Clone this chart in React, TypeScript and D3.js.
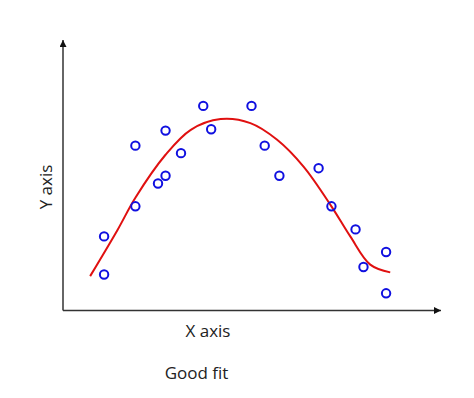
import React, { useEffect, useRef } from 'react';
import * as d3 from 'd3';

// observed samples (x, y) in chart units
const sampleX = [1.09, 1.09, 1.92, 1.92, 2.72, 2.72, 2.52, 3.13, 3.72, 3.93, 5.0, 5.35, 5.74, 6.78, 7.12, 7.76, 8.57, 7.97, 8.57];
const sampleY = [1.34, 2.76, 6.14, 3.88, 6.7, 5.02, 4.73, 5.86, 7.62, 6.75, 7.62, 6.14, 5.02, 5.3, 3.88, 3.02, 2.18, 1.62, 0.64];

// fitted curve
const fitX = [0.72, 1.45, 1.92, 2.72, 3.39, 4.18, 4.97, 5.68, 6.38, 7.12, 7.62, 8.15, 8.68];
const fitY = [1.28, 3.01, 4.2, 5.8, 6.73, 7.13, 6.98, 6.36, 5.36, 3.88, 2.76, 1.71, 1.42];

const xLabel = 'X axis';
const yLabel = 'Y axis';
const caption = 'Good fit';

const Chart: React.FC = () => {
    const svgRef = useRef<SVGSVGElement>(null);

    useEffect(() => {
        if (!svgRef.current) return;
        const svg = d3.select(svgRef.current);
        svg.selectAll('*').remove();

        const x0 = 63, x1 = 441, y0 = 310.5, y1 = 40;
        const xScale = d3.scaleLinear().domain([0, 10]).range([x0, x1 - 1]);
        const yScale = d3.scaleLinear().domain([0, 10]).range([y0, y1 + 2]);

        // arrow heads
        const defs = svg.append('defs');
        defs.append('marker')
            .attr('id', 'arrow')
            .attr('viewBox', '0 0 10 10')
            .attr('refX', 10)
            .attr('refY', 5)
            .attr('markerWidth', 8)
            .attr('markerHeight', 7)
            .attr('markerUnits', 'userSpaceOnUse')
            .attr('orient', 'auto')
            .append('path')
            .attr('d', 'M0,0 L10,5 L0,10 Z')
            .style('fill', '#111');

        svg.append('line')
            .attr('x1', x0).attr('y1', y0)
            .attr('x2', x1).attr('y2', y0)
            .style('stroke', '#333')
            .style('stroke-width', 1.5)
            .attr('marker-end', 'url(#arrow)');

        svg.append('line')
            .attr('x1', x0).attr('y1', y0)
            .attr('x2', x0).attr('y2', y1)
            .style('stroke', '#333')
            .style('stroke-width', 1.5)
            .attr('marker-end', 'url(#arrow)');

        const fit: [number, number][] = fitX.map((v, i) => [v, fitY[i]]);
        const line = d3.line<[number, number]>()
            .x(d => xScale(d[0]))
            .y(d => yScale(d[1]))
            .curve(d3.curveCatmullRom);

        svg.append('path')
            .datum(fit)
            .attr('d', line)
            .style('fill', 'none')
            .style('stroke', '#e01010')
            .style('stroke-width', 2);

        svg.selectAll('circle.pt')
            .data(sampleX.map((v, i) => [v, sampleY[i]]))
            .join('circle')
            .attr('class', 'pt')
            .attr('cx', d => xScale(d[0]))
            .attr('cy', d => yScale(d[1]))
            .attr('r', 4.2)
            .style('fill', 'none')
            .style('stroke', '#1010e0')
            .style('stroke-width', 2);

        const font = '"Open Sans", sans-serif';
        svg.append('text')
            .attr('x', 208)
            .attr('y', 336.5)
            .attr('text-anchor', 'middle')
            .style('font-family', font)
            .style('font-size', '17px')
            .style('fill', '#222')
            .text(xLabel);

        svg.append('text')
            .attr('transform', 'translate(51.5,187) rotate(-90)')
            .attr('text-anchor', 'middle')
            .style('font-family', font)
            .style('font-size', '17px')
            .style('fill', '#222')
            .text(yLabel);

        svg.append('text')
            .attr('x', 196.5)
            .attr('y', 378.5)
            .attr('text-anchor', 'middle')
            .style('font-family', font)
            .style('font-size', '17px')
            .style('fill', '#222')
            .text(caption);
    }, []);

    return <svg ref={svgRef} width={474} height={398} style={{ display: 'block' }} />;
};

const App: React.FC = () => (
    <div style={{ position: 'absolute', left: 0, top: 0, background: '#fff' }}>
        <Chart />
    </div>
);

export default App;
